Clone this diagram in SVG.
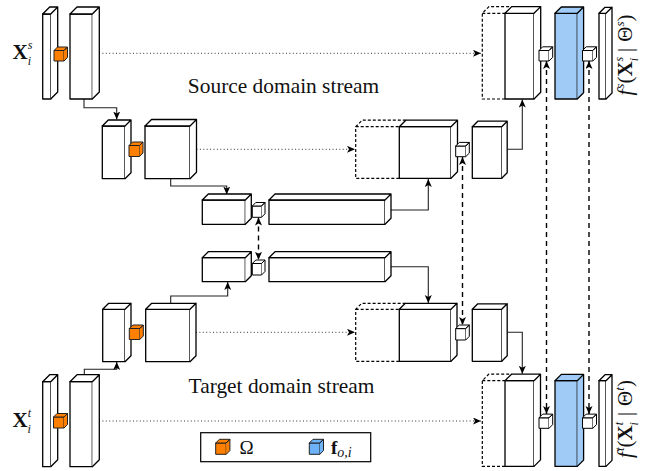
<svg xmlns="http://www.w3.org/2000/svg" width="657" height="471" viewBox="0 0 657 471">
<defs>
<style>
.b{fill:#fff;stroke:#000;stroke-width:1.3;stroke-linejoin:round}
.bl{fill:#9fcbf6;stroke:#000;stroke-width:1.3;stroke-linejoin:round}
.or{fill:#ff8000;stroke:#222;stroke-width:1;stroke-linejoin:round}
.lb{fill:#6cb3fa;stroke:#222;stroke-width:1;stroke-linejoin:round}
.sc{fill:#fff;stroke:#000;stroke-width:1;stroke-linejoin:round}
.dash{fill:none;stroke:#000;stroke-width:1.2;stroke-dasharray:3 2}
.dot{fill:none;stroke:#333;stroke-width:1;stroke-dasharray:1 2.4}
.con{fill:none;stroke:#222;stroke-width:1.1}
.dv{fill:none;stroke:#000;stroke-width:1.4;stroke-dasharray:5 4}
.t{font-family:"Liberation Serif","Times New Roman",serif;fill:#111}
</style>
<marker id="ah" markerUnits="userSpaceOnUse" markerWidth="9" markerHeight="8" refX="8" refY="3.5" orient="auto-start-reverse" viewBox="0 0 9 8">
<path d="M0,0 L8,3.5 L0,7 L2,3.5 z" fill="#000"/>
</marker>
</defs>
<rect width="657" height="471" fill="#fff"/>

<g id="dashed-ghosts">
<path class="dash" d="M505,99 H482.3 V13.3 L489,6.6 H511.7 M482.3,13.3 H505"/>
<path class="dash" d="M399.3,178.3 H355.7 V126.7 L362.2,120.2 H406 M355.7,126.7 H399.3"/>
<path class="dash" d="M399.3,361.3 H355.7 V309.3 L361.7,303.3 H405.3 M355.7,309.3 H399.3"/>
<path class="dash" d="M505,466.4 H482.3 V380.7 L488.8,374.2 H511.5 M482.3,380.7 H505"/>
</g>

<g id="connectors">
<path class="dot" d="M99,53.3 H481" marker-end="url(#ah)"/>
<path class="dot" d="M196.5,149.3 H355" marker-end="url(#ah)"/>
<path class="dot" d="M196,332.3 H355" marker-end="url(#ah)"/>
<path class="dot" d="M99,421 H481" marker-end="url(#ah)"/>
<path class="con" d="M84,99 V107.7 H116.7 V119.5" marker-end="url(#ah)"/>
<path class="con" d="M170.7,178.7 V186 H226.7 V194.5" marker-end="url(#ah)"/>
<path class="con" d="M391,210 H428.3 V179" marker-end="url(#ah)"/>
<path class="con" d="M507.2,149.3 H522.3 V99.5" marker-end="url(#ah)"/>
<path class="con" d="M84.3,374.7 V369.3 H116.7 V362" marker-end="url(#ah)"/>
<path class="con" d="M170.7,303.3 V296 H227.7 V282" marker-end="url(#ah)"/>
<path class="con" d="M391,266.7 H428.3 V303" marker-end="url(#ah)"/>
<path class="con" d="M507.2,332.3 H522.3 V373.8" marker-end="url(#ah)"/>
<path class="dv" d="M258.5,217.5 V259.8" marker-start="url(#ah)" marker-end="url(#ah)"/>
<path class="dv" d="M462.5,157 V325" marker-start="url(#ah)" marker-end="url(#ah)"/>
<path class="dv" d="M546.5,61 V414" marker-start="url(#ah)" marker-end="url(#ah)"/>
<path class="dv" d="M589,61 V414" marker-start="url(#ah)" marker-end="url(#ah)"/>
</g>

<!-- source stream -->
<g id="s-in1"><rect class="b" x="42.7" y="14" width="8" height="85"/><path class="b" d="M42.7,14 l7,-7 h8 l-7,7 z M50.7,14 l7,-7 v85 l-7,7"/></g>
<g id="s-in2"><rect class="b" x="70" y="14" width="22.3" height="85"/><path class="b" d="M70,14 l7,-7 h22.3 l-7,7 z M92.3,14 l7,-7 v85 l-7,7"/></g>
<g id="s-omega1"><rect class="or" x="54" y="50.5" width="10" height="10.5"/><path class="or" d="M54,50.5 l3.5,-3.5 h10 l-3.5,3.5 z M64,50.5 l3.5,-3.5 v10.5 l-3.5,3.5"/></g>
<g id="s-b3"><rect class="b" x="102.3" y="126" width="22.7" height="52.7"/><path class="b" d="M102.3,126 l6,-6 h22.7 l-6,6 z M125,126 l6,-6 v52.7 l-6,6"/></g>
<g id="s-b4"><rect class="b" x="145" y="126" width="45" height="52.7"/><path class="b" d="M145,126 l6.5,-6.5 h45 l-6.5,6.5 z M190,126 l6.5,-6.5 v52.7 l-6.5,6.5"/></g>
<g id="s-omega2"><rect class="or" x="129" y="145.5" width="10.5" height="11"/><path class="or" d="M129,145.5 l3.5,-3.5 h10.5 l-3.5,3.5 z M139.5,145.5 l3.5,-3.5 v11 l-3.5,3.5"/></g>
<g id="s-b5"><rect class="b" x="202.3" y="200" width="43" height="24.3"/><path class="b" d="M202.3,200 l6,-6 h43 l-6,6 z M245.3,200 l6,-6 v24.3 l-6,6"/></g>
<g id="s-c5"><rect class="sc" x="252.3" y="206" width="9.2" height="11.3"/><path class="sc" d="M252.3,206 l3.5,-3.5 h9.2 l-3.5,3.5 z M261.5,206 l3.5,-3.5 v11.3 l-3.5,3.5"/></g>
<g id="s-b6"><rect class="b" x="269" y="200" width="116" height="24.3"/><path class="b" d="M269,200 l6,-6 h116 l-6,6 z M385,200 l6,-6 v24.3 l-6,6"/></g>
<g id="s-b7"><rect class="b" x="399.3" y="126.7" width="51.7" height="51.6"/><path class="b" d="M399.3,126.7 l6.5,-6.5 h51.7 l-6.5,6.5 z M451,126.7 l6.5,-6.5 v51.6 l-6.5,6.5"/></g>
<g id="s-c7"><rect class="sc" x="455.7" y="146" width="10" height="10.7"/><path class="sc" d="M455.7,146 l3.6,-3.6 h10 l-3.6,3.6 z M465.7,146 l3.6,-3.6 v10.7 l-3.6,3.6"/></g>
<g id="s-b8"><rect class="b" x="472.3" y="126.7" width="29.4" height="51.6"/><path class="b" d="M472.3,126.7 l5.5,-5.5 h29.4 l-5.5,5.5 z M501.7,126.7 l5.5,-5.5 v51.6 l-5.5,5.5"/></g>
<g id="s-b9"><rect class="b" x="505" y="13.3" width="29" height="85.7"/><path class="b" d="M505,13.3 l6.7,-6.7 h29 l-6.7,6.7 z M534,13.3 l6.7,-6.7 v85.7 l-6.7,6.7"/></g>
<g id="s-c9a"><rect class="sc" x="539" y="50.5" width="10" height="10.5"/><path class="sc" d="M539,50.5 l3.7,-3.7 h10 l-3.7,3.7 z M549,50.5 l3.7,-3.7 v10.5 l-3.7,3.7"/></g>
<g id="s-fo"><rect class="bl" x="555" y="13.3" width="22.3" height="85.7"/><path class="bl" d="M555,13.3 l6.3,-6.3 h22.3 l-6.3,6.3 z M577.3,13.3 l6.3,-6.3 v85.7 l-6.3,6.3"/></g>
<g id="s-c9b"><rect class="sc" x="582.5" y="50.5" width="10.3" height="10.5"/><path class="sc" d="M582.5,50.5 l3.7,-3.7 h10.3 l-3.7,3.7 z M592.8,50.5 l3.7,-3.7 v10.5 l-3.7,3.7"/></g>
<g id="s-out"><rect class="b" x="599" y="13.3" width="7" height="85.7"/><path class="b" d="M599,13.3 l6,-6 h7 l-6,6 z M606,13.3 l6,-6 v85.7 l-6,6"/></g>

<!-- target stream -->
<g id="t-b5"><rect class="b" x="202.3" y="257.7" width="43" height="24"/><path class="b" d="M202.3,257.7 l6,-6 h43 l-6,6 z M245.3,257.7 l6,-6 v24 l-6,6"/></g>
<g id="t-c5"><rect class="sc" x="252.3" y="263.5" width="9.2" height="11.5"/><path class="sc" d="M252.3,263.5 l3.5,-3.5 h9.2 l-3.5,3.5 z M261.5,263.5 l3.5,-3.5 v11.5 l-3.5,3.5"/></g>
<g id="t-b6"><rect class="b" x="269" y="257.7" width="116" height="24"/><path class="b" d="M269,257.7 l6,-6 h116 l-6,6 z M385,257.7 l6,-6 v24 l-6,6"/></g>
<g id="t-b3"><rect class="b" x="102.7" y="309.3" width="22.3" height="52.4"/><path class="b" d="M102.7,309.3 l6,-6 h22.3 l-6,6 z M125,309.3 l6,-6 v52.4 l-6,6"/></g>
<g id="t-b4"><rect class="b" x="145.7" y="309.3" width="44.3" height="52.4"/><path class="b" d="M145.7,309.3 l6,-6 h44.3 l-6,6 z M190,309.3 l6,-6 v52.4 l-6,6"/></g>
<g id="t-omega2"><rect class="or" x="129.3" y="328.5" width="10.5" height="11"/><path class="or" d="M129.3,328.5 l3.5,-3.5 h10.5 l-3.5,3.5 z M139.8,328.5 l3.5,-3.5 v11 l-3.5,3.5"/></g>
<g id="t-in1"><rect class="b" x="42.7" y="381.7" width="8" height="85"/><path class="b" d="M42.7,381.7 l7,-7 h8 l-7,7 z M50.7,381.7 l7,-7 v85 l-7,7"/></g>
<g id="t-in2"><rect class="b" x="70" y="381.7" width="22.3" height="85"/><path class="b" d="M70,381.7 l7,-7 h22.3 l-7,7 z M92.3,381.7 l7,-7 v85 l-7,7"/></g>
<g id="t-omega1"><rect class="or" x="53.5" y="417" width="10.5" height="11"/><path class="or" d="M53.5,417 l3.5,-3.5 h10.5 l-3.5,3.5 z M64,417 l3.5,-3.5 v11 l-3.5,3.5"/></g>
<g id="t-b7"><rect class="b" x="399.3" y="309.3" width="51.7" height="52"/><path class="b" d="M399.3,309.3 l6,-6 h51.7 l-6,6 z M451,309.3 l6,-6 v52 l-6,6"/></g>
<g id="t-c7"><rect class="sc" x="455.7" y="328.6" width="10" height="11.4"/><path class="sc" d="M455.7,328.6 l3.6,-3.6 h10 l-3.6,3.6 z M465.7,328.6 l3.6,-3.6 v11.4 l-3.6,3.6"/></g>
<g id="t-b8"><rect class="b" x="472.3" y="309.3" width="29.4" height="52"/><path class="b" d="M472.3,309.3 l5.5,-5.5 h29.4 l-5.5,5.5 z M501.7,309.3 l5.5,-5.5 v52 l-5.5,5.5"/></g>
<g id="t-b9"><rect class="b" x="505" y="380.7" width="29" height="85.7"/><path class="b" d="M505,380.7 l6.5,-6.5 h29 l-6.5,6.5 z M534,380.7 l6.5,-6.5 v85.7 l-6.5,6.5"/></g>
<g id="t-c9a"><rect class="sc" x="539" y="417.8" width="10" height="10.5"/><path class="sc" d="M539,417.8 l3.7,-3.7 h10 l-3.7,3.7 z M549,417.8 l3.7,-3.7 v10.5 l-3.7,3.7"/></g>
<g id="t-fo"><rect class="bl" x="555" y="380.7" width="22.3" height="85.7"/><path class="bl" d="M555,380.7 l6.3,-6.3 h22.3 l-6.3,6.3 z M577.3,380.7 l6.3,-6.3 v85.7 l-6.3,6.3"/></g>
<g id="t-c9b"><rect class="sc" x="582.5" y="417.8" width="10.3" height="10.5"/><path class="sc" d="M582.5,417.8 l3.7,-3.7 h10.3 l-3.7,3.7 z M592.8,417.8 l3.7,-3.7 v10.5 l-3.7,3.7"/></g>
<g id="t-out"><rect class="b" x="599" y="380.7" width="7" height="85.7"/><path class="b" d="M599,380.7 l6,-6 h7 l-6,6 z M606,380.7 l6,-6 v85.7 l-6,6"/></g>

<g id="labels">
<text class="t" x="12.5" y="58.5" font-size="21"><tspan font-weight="bold">X</tspan><tspan font-size="12" font-style="italic" dy="-9.5">s</tspan><tspan font-size="12" font-style="italic" dx="-4.5" dy="15.5">i</tspan></text>
<text class="t" x="12.5" y="426.5" font-size="21"><tspan font-weight="bold">X</tspan><tspan font-size="12" font-style="italic" dy="-9.5">t</tspan><tspan font-size="12" font-style="italic" dx="-3.5" dy="15.5">i</tspan></text>
<text class="t" x="283.5" y="93.3" font-size="21.4" text-anchor="middle">Source domain stream</text>
<text class="t" x="281.5" y="392.5" font-size="21.4" text-anchor="middle">Target domain stream</text>
<text class="t" transform="translate(632,55) rotate(-90)" text-anchor="middle" font-size="21"><tspan font-style="italic">f</tspan><tspan font-size="13" font-style="italic" dx="1" dy="-8">s</tspan><tspan dy="8">(</tspan><tspan font-weight="bold">X</tspan><tspan font-size="12" font-style="italic" dy="-9">s</tspan><tspan font-size="12" font-style="italic" dx="-4.5" dy="14.5">i</tspan><tspan dy="-5.5" dx="6">|</tspan><tspan dx="6">Θ</tspan><tspan font-size="13" font-style="italic" dy="-8">s</tspan><tspan dy="8">)</tspan></text>
<text class="t" transform="translate(632,419) rotate(-90)" text-anchor="middle" font-size="21"><tspan font-style="italic">f</tspan><tspan font-size="13" font-style="italic" dx="1" dy="-8">t</tspan><tspan dy="8">(</tspan><tspan font-weight="bold">X</tspan><tspan font-size="12" font-style="italic" dy="-9">t</tspan><tspan font-size="12" font-style="italic" dx="-3.5" dy="14.5">i</tspan><tspan dy="-5.5" dx="6">|</tspan><tspan dx="6">Θ</tspan><tspan font-size="13" font-style="italic" dy="-8">t</tspan><tspan dy="8">)</tspan></text>
</g>

<g id="legend">
<rect x="200.7" y="432.7" width="170" height="29" fill="#fff" stroke="#000" stroke-width="1.2"/>
<rect class="or" x="215.7" y="443" width="10.5" height="11.3"/><path class="or" d="M215.7,443 l3.7,-3.7 h10.5 l-3.7,3.7 z M226.2,443 l3.7,-3.7 v11.3 l-3.7,3.7"/>
<text class="t" x="239.5" y="453.5" font-size="19">Ω</text>
<rect class="lb" x="309.3" y="443" width="10.5" height="11.3"/><path class="lb" d="M309.3,443 l3.7,-3.7 h10.5 l-3.7,3.7 z M319.8,443 l3.7,-3.7 v11.3 l-3.7,3.7"/>
<text class="t" x="331" y="453.5" font-size="19"><tspan font-weight="bold">f</tspan><tspan font-size="14" font-style="italic" dy="3">o,i</tspan></text>
</g>
</svg>
